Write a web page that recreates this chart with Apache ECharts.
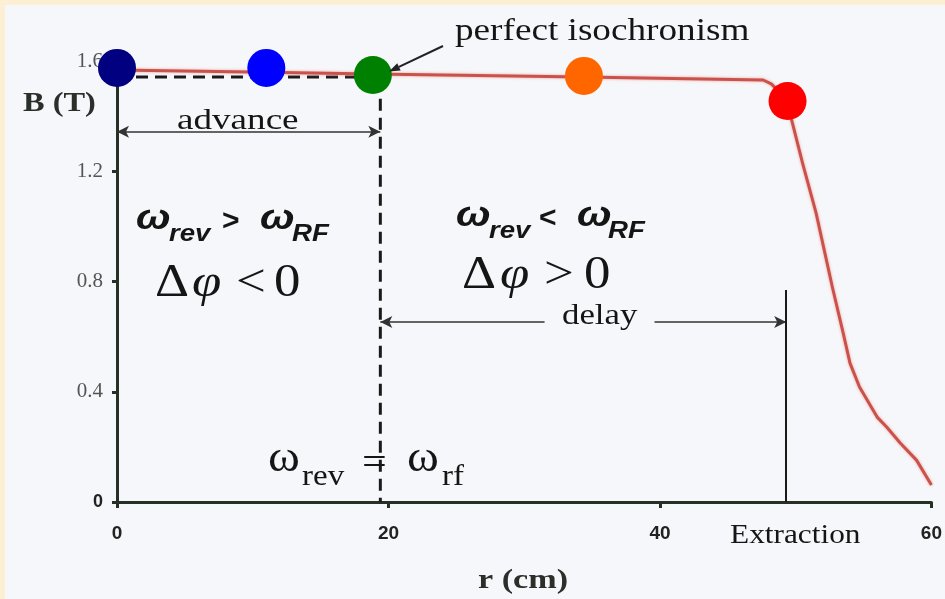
<!DOCTYPE html>
<html><head><meta charset="utf-8">
<script src="https://cdn.jsdelivr.net/npm/echarts@6/dist/echarts.min.js"></script>
<style>html,body{margin:0;padding:0;background:#fcefd4}#c{width:945px;height:599px}</style>
</head><body><div id="c"></div>
<script>
// ---- data ----
const xTicks = [0, 20, 40, 60];
const yTicks = [0, 0.4, 0.8, 1.2, 1.6];
const curveR = [0, 9.8, 18.85, 34.3, 47.6, 48.2, 48.8, 49.7, 50.5, 51.5, 52.7, 53.5, 54.0, 54.7, 56.0, 56.7, 57.7, 58.9, 60.0];
const curveB = [1.567, 1.560, 1.553, 1.542, 1.531, 1.517, 1.488, 1.386, 1.230, 1.049, 0.780, 0.613, 0.504, 0.417, 0.308, 0.272, 0.214, 0.152, 0.062];
const dotR = [0, 11.0, 18.85, 34.4, 49.4];
const dotB = [1.575, 1.575, 1.549, 1.546, 1.455];
const dotColors = ['#000080', '#0000ff', '#008000', '#ff6600', '#ff0000'];
const isoR = [19.4];
const isoB = [1.542];
const advanceB = [1.343];
const delayB = [0.653];
const delayGapR = [31.5, 39.6];
const extractionR = [49.3];
const extractionTopB = [0.769];

const SERIF = '"Liberation Serif"';
const SANS = '"Liberation Sans"';
function T(x, base, size, text, fam, o) {
  o = o || {};
  const font = [o.it ? 'italic' : '', o.w || '', size + 'px', fam].join(' ').trim();
  return {type: 'text', x: x, y: base - 0.35 * size, scaleX: o.sx || 1, z: 100, silent: true,
    style: {text: text, font: font, fill: o.c || '#151515', verticalAlign: 'middle', textAlign: o.a || 'left'}};
}
function arrowPointer(x1, y1, x2, y2) {
  const dx = x2 - x1, dy = y2 - y1, L = Math.hypot(dx, dy), ux = dx / L, uy = dy / L;
  const bx = x2 - 11 * ux, by = y2 - 11 * uy, px = -uy * 4, py = ux * 4;
  return [
    {type: 'line', z: 100, silent: true, shape: {x1: x1, y1: y1, x2: bx, y2: by}, style: {stroke: '#222', lineWidth: 2}},
    {type: 'polygon', z: 100, silent: true, shape: {points: [[x2, y2], [bx + px, by + py], [bx - px, by - py]]}, style: {fill: '#222'}}
  ];
}

const chart = echarts.init(document.getElementById('c'), null, {renderer: 'canvas'});
const axisColor = '#263026';
const arrowStyle = {color: '#333', width: 1.6, type: 'solid'};
const graphics = [
  {type: 'rect', z: -10, silent: true, shape: {x: 5, y: 5, width: 940, height: 594}, style: {fill: '#f6f7fa'}},
  T(455, 43, 31, 'perfect isochronism', SERIF, {sx: 1.2}),
  T(177, 132, 29, 'advance', SERIF, {sx: 1.28}),
  T(562, 327, 29, 'delay', SERIF, {sx: 1.2}),
  T(730, 545, 27, 'Extraction', SERIF, {sx: 1.16}),
  T(23, 113, 27, 'B (T)', SERIF, {w: 'bold', sx: 1.2, c: '#2a2f2a'}),
  T(478, 591, 28, 'r (cm)', SERIF, {w: 'bold', sx: 1.22, c: '#2a2f2a'}),
  // ω_rev > ω_RF
  T(136, 232, 36, 'ω', SANS, {w: 'bold', it: true, sx: 1.15}),
  T(169, 243, 24, 'rev', SANS, {w: 'bold', it: true, sx: 1.15}),
  T(222, 232, 30, '>', SANS, {w: 'bold', sx: 1.0}),
  T(260, 232, 36, 'ω', SANS, {w: 'bold', it: true, sx: 1.15}),
  T(292, 243, 24, 'RF', SANS, {w: 'bold', it: true, sx: 1.15}),
  // ω_rev < ω_RF
  T(456, 229, 36, 'ω', SANS, {w: 'bold', it: true, sx: 1.15}),
  T(489, 240, 24, 'rev', SANS, {w: 'bold', it: true, sx: 1.15}),
  T(539, 229, 30, '<', SANS, {w: 'bold', sx: 1.0}),
  T(577, 229, 36, 'ω', SANS, {w: 'bold', it: true, sx: 1.15}),
  T(608, 240, 24, 'RF', SANS, {w: 'bold', it: true, sx: 1.15}),
  // Δφ < 0
  T(155, 300, 46, 'Δ', SERIF, {sx: 1.15}),
  T(192, 300, 46, 'φ', SERIF, {it: true, sx: 1.15}),
  T(236, 300, 46, '<', SERIF, {sx: 1.15}),
  T(274, 300, 46, '0', SERIF, {sx: 1.15}),
  // Δφ > 0
  T(462, 292, 46, 'Δ', SERIF, {sx: 1.15}),
  T(500, 292, 46, 'φ', SERIF, {it: true, sx: 1.15}),
  T(544, 292, 46, '>', SERIF, {sx: 1.15}),
  T(584, 292, 46, '0', SERIF, {sx: 1.15}),
  // ω_rev = ω_rf
  T(268, 475, 44, 'ω', SERIF, {sx: 1.1}),
  T(302, 488, 30, 'rev', SERIF, {sx: 1.1}),
  T(362, 478, 40, '=', SERIF, {sx: 1.1}),
  T(407, 475, 44, 'ω', SERIF, {sx: 1.1}),
  T(442, 488, 30, 'rf', SERIF, {sx: 1.1})
].concat(arrowPointer(443, 46, 389, 71.5));

chart.setOption({
  backgroundColor: '#fcefd4',
  animation: false,
  grid: {left: 117, right: 13, top: 61, bottom: 97, containLabel: false},
  xAxis: {
    type: 'value', min: xTicks[0], max: xTicks[xTicks.length - 1], interval: xTicks[1] - xTicks[0],
    axisLine: {show: true, onZero: false, lineStyle: {color: axisColor, width: 3}},
    axisTick: {show: true, length: 6, lineStyle: {color: axisColor, width: 3}},
    axisLabel: {margin: 22, color: '#222', fontFamily: SANS, fontWeight: 'bold', fontSize: 19},
    splitLine: {show: false}
  },
  yAxis: {
    type: 'value', min: yTicks[0], max: yTicks[yTicks.length - 1], interval: yTicks[1] - yTicks[0],
    axisLine: {show: true, onZero: false, lineStyle: {color: axisColor, width: 3}},
    axisTick: {show: true, length: 5, lineStyle: {color: axisColor, width: 3}},
    axisLabel: {
      margin: 14,
      formatter: function (v) { return v === 0 ? '{b|0}' : '{s|' + v.toFixed(1) + '}'; },
      rich: {
        b: {fontFamily: SANS, fontWeight: 'bold', fontSize: 18, color: '#222'},
        s: {fontFamily: SERIF, fontSize: 21, color: '#555'}
      }
    },
    splitLine: {show: false}
  },
  graphic: graphics,
  series: [
    {
      type: 'line', name: 'B(r)', z: 3, symbol: 'none', smooth: false,
      data: curveR.map((r, i) => [r, curveB[i]]),
      lineStyle: {color: '#c9534c', width: 3, join: 'round', shadowBlur: 3, shadowColor: 'rgba(235,130,120,0.7)'}
    },
    {
      type: 'line', name: 'isochronism guide', z: 2, symbol: 'none',
      data: [[xTicks[0], isoB[0]], [isoR[0], isoB[0]], [isoR[0], yTicks[0]]],
      lineStyle: {color: '#1a1a1a', width: 3, type: [12, 7]},
      markLine: {
        silent: true, symbol: ['none', 'none'], symbolSize: [9, 12], label: {show: false},
        lineStyle: arrowStyle,
        data: [
          [{coord: [xTicks[0], advanceB[0]], symbol: 'arrow'}, {coord: [isoR[0], advanceB[0]], symbol: 'arrow'}],
          [{coord: [isoR[0], delayB[0]], symbol: 'arrow'}, {coord: [delayGapR[0], delayB[0]], symbol: 'none'}],
          [{coord: [delayGapR[1], delayB[0]], symbol: 'none'}, {coord: [extractionR[0], delayB[0]], symbol: 'arrow'}],
          [{coord: [extractionR[0], yTicks[0]], symbol: 'none', lineStyle: {color: '#1a1a1a', width: 2}},
           {coord: [extractionR[0], extractionTopB[0]], symbol: 'none'}]
        ]
      }
    },
    {
      type: 'scatter', name: 'points', z: 10, symbolSize: 38,
      data: dotR.map((r, i) => ({value: [r, dotB[i]], itemStyle: {color: dotColors[i], opacity: 1}}))
    }
  ]
});
</script>
</body></html>
